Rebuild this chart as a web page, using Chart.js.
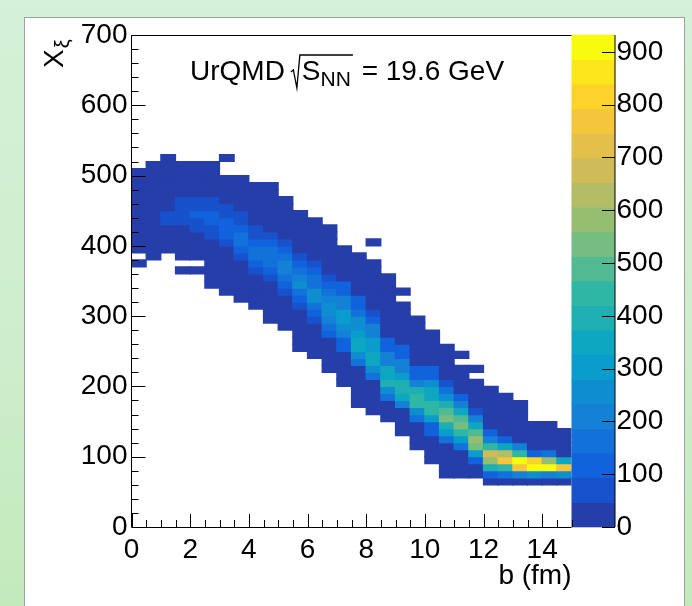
<!DOCTYPE html>
<html>
<head>
<meta charset="utf-8">
<script src="https://cdn.jsdelivr.net/npm/chart.js@4.4.1/dist/chart.umd.min.js"></script>
<style>
html,body{margin:0;padding:0;width:692px;height:606px;overflow:hidden;}
body{position:relative;background:linear-gradient(180deg,#d5f1d8 0%,#cdeecd 55%,#c3eabb 100%);}
#panel{position:absolute;left:24px;top:17px;width:661px;height:600px;background:#fff;border:1px solid #a0a0a0;box-sizing:border-box;}
#c{position:absolute;left:0;top:0;}
</style>
</head>
<body>
<div id="panel"></div>
<canvas id="c" width="692" height="606"></canvas>
<script>
// ---------------- data ----------------
// x bins: impact parameter b (fm), width 0.5 ; y bins: X_xi, width 10
const bCenters = [0.25,0.75,1.25,1.75,2.25,2.75,3.25,3.75,4.25,4.75,5.25,5.75,6.25,6.75,7.25,
                  7.75,8.25,8.75,9.25,9.75,10.25,10.75,11.25,11.75,12.25,12.75,13.25,13.75,14.25,14.75];
const xiBinWidth = 10;
// index of the lowest filled X_xi bin in every b column
const firstXiBin = [37,38,39,36,36,34,33,32,31,29,28,25,24,22,20,17,16,15,13,11,9,7,7,7,6,6,6,6,6,6];
// counts per column, from the lowest bin upward
const col00 = [3,0,6,14,22,30,36,40,38,33,26,18,10,4];
const col01 = [5,12,21,30,39,44,45,43,38,30,21,13,7,3];
const col02 = [8,17,28,40,52,58,46,41,33,24,14,8,4,2];
const col03 = [2,0,7,15,26,38,45,60,72,70,55,40,30,19,10,4];
const col04 = [3,0,9,18,30,42,58,82,98,85,62,44,32,20,10,4];
const col05 = [4,9,16,25,34,42,44,60,85,108,102,78,55,38,27,17,9,3];
const col06 = [5,10,18,27,36,43,45,62,95,118,106,80,52,40,28,17,8,0,0,2];
const col07 = [4,10,19,28,38,44,58,96,145,150,112,78,52,40,28,18,10,4];
const col08 = [5,12,22,32,40,55,98,148,165,130,90,60,44,34,24,15,8,3];
const col09 = [3,8,16,26,36,44,68,110,158,182,150,102,66,45,36,26,17,10,5,2];
const col10 = [4,10,18,28,40,62,118,168,205,190,150,105,70,44,32,22,13,7,3];
const col11 = [3,8,15,24,35,44,75,125,175,238,220,170,118,72,45,33,22,13,7,3];
const col12 = [4,9,16,26,38,58,105,170,250,236,185,140,98,62,44,34,24,14,7,3];
const col13 = [3,8,15,25,40,100,160,230,265,250,200,150,110,70,45,35,26,17,10,5,2];
const col14 = [4,10,19,30,42,98,128,200,262,300,292,225,195,135,100,46,36,26,15,6];
const col15 = [3,8,15,24,35,45,160,250,335,340,300,262,240,150,118,96,45,36,26,16,8,3];
const col16 = [4,10,18,30,44,165,255,345,350,310,290,220,200,110,75,44,38,30,22,14,8,3,0,0,2];
const col17 = [3,9,20,160,250,380,365,340,215,195,120,100,44,38,30,22,15,9,5,2,1];
const col18 = [3,8,18,36,200,340,400,385,300,210,195,115,98,45,38,30,24,17,10,0,3];
const col19 = [3,10,22,40,150,260,420,430,390,220,120,100,44,36,28,20,13,7,3];
const col20 = [4,14,28,44,110,130,300,440,425,365,340,250,120,98,45,36,25,14,5];
const col21 = [3,10,22,34,44,160,300,395,530,490,400,255,170,80,44,36,26,15,6];
const col22 = [4,14,30,45,165,310,440,540,495,350,210,115,44,35,24,12,0,3];
const col23 = [8,38,120,300,530,585,480,340,200,75,44,32,20,9,0,3];
const col24 = [30,110,400,590,680,450,210,120,44,36,27,18,10,4];
const col25 = [38,165,440,770,630,350,105,44,35,26,17,9,3];
const col26 = [40,200,770,932,440,210,44,38,30,22,12,5];
const col27 = [42,250,910,810,120,44,34,20,8];
const col28 = [40,215,900,590,160,44,32,18,6];
const col29 = [38,260,760,350,45,36,22,9];
const columns = [col00,col01,col02,col03,col04,col05,col06,col07,col08,col09,
                 col10,col11,col12,col13,col14,col15,col16,col17,col18,col19,
                 col20,col21,col22,col23,col24,col25,col26,col27,col28,col29];

const zMax = 932;          // top of the colour scale
const nLevels = 20;        // colour contours
const xTickLabels = [0,2,4,6,8,10,12,14];
const yTickLabels = [0,100,200,300,400,500,600,700];
const zTickLabels = [0,100,200,300,400,500,600,700,800,900];

// ---------------- kBird palette ----------------
const birdStops = [0,0.125,0.25,0.375,0.5,0.625,0.75,0.875,1];
const birdR = [0.2082,0.0592,0.0780,0.0232,0.1802,0.5301,0.8186,0.9956,0.9764];
const birdG = [0.1664,0.3599,0.5041,0.6419,0.7178,0.7492,0.7328,0.7862,0.9832];
const birdB = [0.5293,0.8684,0.8385,0.7914,0.6425,0.4662,0.3499,0.1968,0.0539];
function birdColor(f){
  let i = 0;
  while (i < birdStops.length - 2 && f > birdStops[i+1]) i++;
  const t = (f - birdStops[i]) / (birdStops[i+1] - birdStops[i]);
  const c = a => Math.round(255 * (a[i] + t * (a[i+1] - a[i])));
  return 'rgb(' + c(birdR) + ',' + c(birdG) + ',' + c(birdB) + ')';
}
function levelOf(v){ return Math.min(nLevels - 1, Math.floor(v / (zMax / nLevels))); }
function levelColor(k){ return birdColor(Math.min(1, (k + 0.99) / nLevels)); }

// ---------------- cells ----------------
const cells = [];
columns.forEach((vals, i) => {
  vals.forEach((v, k) => {
    if (v > 0) {
      const j = firstXiBin[i] + k;
      cells.push({x: bCenters[i], y: [j * xiBinWidth, (j + 1) * xiBinWidth], v: v});
    }
  });
});

const FONT = '"Liberation Sans", Arial, Helvetica, sans-serif';
const FS = 28;

const decor = {
  id: 'rootDecor',
  afterDatasetsDraw(chart){
    const ctx = chart.ctx, a = chart.chartArea;
    const xs = chart.scales.x, ys = chart.scales.y, zs = chart.scales.y2;
    ctx.save();
    // palette
    const pL = a.right, pR = a.right + 43.5;
    const step = zMax / nLevels;
    for (let k = 0; k < nLevels; k++) {
      const yb = zs.getPixelForValue(k * step), yt = zs.getPixelForValue((k + 1) * step);
      ctx.fillStyle = levelColor(k);
      ctx.fillRect(pL, yt - 0.3, pR - pL, yb - yt + 0.6);
    }
    ctx.strokeStyle = '#000';
    ctx.lineWidth = 1;
    ctx.beginPath();
    ctx.moveTo(pR, a.top); ctx.lineTo(pR, a.bottom);
    zTickLabels.forEach(v => {
      const y = Math.round(zs.getPixelForValue(v)) + 0.5;
      ctx.moveTo(pR, y); ctx.lineTo(pR - 13, y);
    });
    ctx.stroke();
    // frame
    ctx.beginPath();
    ctx.moveTo(a.left, a.top + 0.5); ctx.lineTo(a.right, a.top + 0.5);
    ctx.moveTo(a.left, a.top); ctx.lineTo(a.left, a.bottom);
    ctx.moveTo(a.left, a.bottom + 0.5); ctx.lineTo(a.right, a.bottom + 0.5);
    // x ticks
    for (let v = 0; v <= 15.001; v += 0.5) {
      const x = Math.round(xs.getPixelForValue(v)) + 0.5;
      const len = (Math.abs(v % 2) < 1e-6) ? 13 : 7;
      ctx.moveTo(x, a.bottom); ctx.lineTo(x, a.bottom - len);
    }
    // y ticks
    for (let v = 0; v <= 700; v += 20) {
      const y = Math.round(ys.getPixelForValue(v)) + 0.5;
      const len = (v % 100 === 0) ? 14 : 7;
      ctx.moveTo(a.left, y); ctx.lineTo(a.left + len, y);
    }
    ctx.stroke();
    ctx.restore();
  },
  afterDraw(chart){
    const ctx = chart.ctx;
    ctx.save();
    ctx.fillStyle = '#000';
    ctx.strokeStyle = '#000';
    ctx.textBaseline = 'alphabetic';
    ctx.textAlign = 'left';
    // header: UrQMD sqrt(S_NN) = 19.6 GeV
    const base = 80;
    let x = 190;
    ctx.font = FS + 'px ' + FONT;
    ctx.fillText('UrQMD', x, base);
    x += ctx.measureText('UrQMD').width + 6;
    const rx = x;
    x += 11;
    ctx.fillText('S', x, base);
    x += ctx.measureText('S').width;
    ctx.font = '21px ' + FONT;
    ctx.fillText('NN', x, base + 6);
    x += ctx.measureText('NN').width + 3;
    ctx.lineWidth = 1.3;
    ctx.beginPath();
    ctx.moveTo(rx, base - 8);
    ctx.lineTo(rx + 2.5, base - 10);
    ctx.lineTo(rx + 6, base + 8);
    ctx.lineTo(rx + 9, base - 25);
    ctx.lineTo(x - 1, base - 25);
    ctx.stroke();
    ctx.font = FS + 'px ' + FONT;
    ctx.fillText(' = 19.6 GeV', x, base);
    // y-axis title X_xi (rotated)
    ctx.save();
    ctx.translate(63, 68);
    ctx.rotate(-Math.PI / 2);
    ctx.font = FS + 'px ' + FONT;
    ctx.fillText('X', 0, 0);
    const wX = ctx.measureText('X').width;
    ctx.font = '20px ' + FONT;
    ctx.fillText('\u03BE', wX + 1, 6);
    ctx.restore();
    ctx.restore();
  }
};

const tickFont = {family: FONT, size: FS};

new Chart(document.getElementById('c'), {
  type: 'bar',
  data: {
    datasets: [{
      data: cells,
      xAxisID: 'x',
      yAxisID: 'y',
      backgroundColor: c => levelColor(levelOf(c.raw.v)),
      borderWidth: 0,
      inflateAmount: 0.6,
      barPercentage: 1,
      categoryPercentage: 1
    }]
  },
  options: {
    responsive: false,
    animation: false,
    events: [],
    layout: {padding: {top: 35, left: 0, right: 0, bottom: 0}},
    plugins: {legend: {display: false}, tooltip: {enabled: false}, title: {display: false}},
    scales: {
      x: {
        type: 'linear', min: 0, max: 15, offset: false, position: 'bottom',
        grid: {display: false, drawTicks: true, tickLength: 4, offset: false}, border: {display: false},
        afterBuildTicks: s => { s.ticks = xTickLabels.map(v => ({value: v})); },
        ticks: {autoSkip: false, maxRotation: 0, padding: 2, color: '#000', font: tickFont},
        title: {display: true, text: 'b (fm)', align: 'end', color: '#000', font: tickFont, padding: {top: 0, bottom: 13}},
        afterFit: s => { s.height = 79; }
      },
      y: {
        type: 'linear', min: 0, max: 700, position: 'left',
        grid: {display: false, drawTicks: false}, border: {display: false},
        afterBuildTicks: s => { s.ticks = yTickLabels.map(v => ({value: v})); },
        ticks: {padding: 4, color: '#000', font: tickFont},
        afterFit: s => { s.width = 131.5; }
      },
      y2: {
        type: 'linear', min: 0, max: zMax, position: 'right',
        grid: {display: false, drawTicks: true, tickLength: 41}, border: {display: false},
        afterBuildTicks: s => { s.ticks = zTickLabels.map(v => ({value: v})); },
        ticks: {padding: 4, color: '#000', font: tickFont},
        afterFit: s => { s.width = 120.5; }
      }
    }
  },
  plugins: [decor]
});
</script>
</body>
</html>
